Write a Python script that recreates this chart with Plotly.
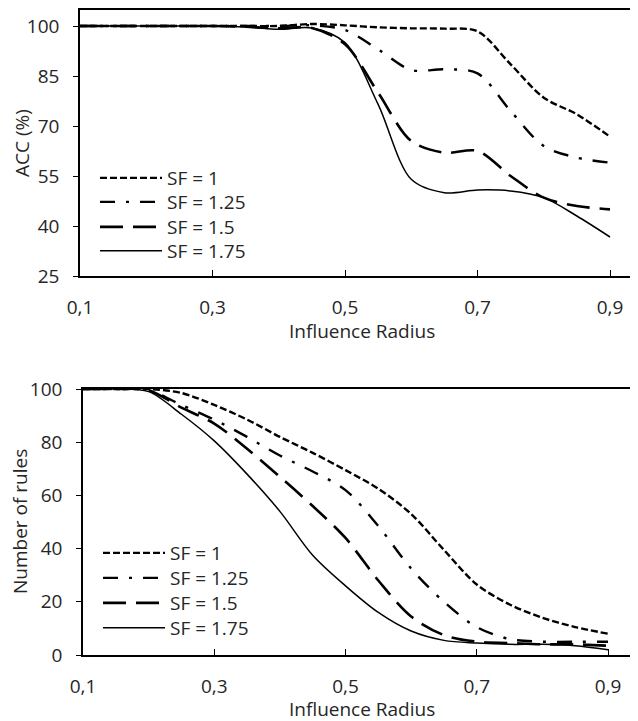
import plotly.graph_objects as go

# ---------------- data ----------------
radius = [0.1, 0.15, 0.2, 0.25, 0.3, 0.35, 0.4, 0.45, 0.5, 0.55,
          0.6, 0.65, 0.7, 0.75, 0.8, 0.85, 0.9]

acc_sf1 = [100, 100, 100, 100, 100, 100, 100, 100.6, 100.2, 99.6,
           99.3, 99.2, 98.4, 88.5, 78.5, 73.5, 66.8]
acc_sf125 = [100, 100, 100, 100, 100, 100, 100, 100.2, 98.8, 93.0,
             86.8, 87.0, 85.8, 74.5, 64.0, 60.5, 59.0]
acc_sf15 = [100, 100, 100, 100, 100, 99.8, 99.3, 99.4, 94.5, 80.0,
            65.5, 62.0, 62.5, 55.0, 48.5, 46.0, 45.0]
acc_sf175 = [100, 100, 100, 100, 100, 99.7, 99.0, 99.4, 95.0, 76.5,
             54.0, 50.0, 50.8, 50.5, 48.5, 43.0, 36.7]

rules_sf1 = [100, 100, 100, 98.5, 94.0, 88.5, 82.0, 76.0, 69.5, 62.5,
             53.0, 39.5, 26.5, 19.0, 14.0, 10.5, 8.0]
rules_sf125 = [100, 100, 99.5, 94.0, 88.5, 82.0, 75.0, 69.0, 62.0, 48.5,
               32.5, 20.0, 10.5, 6.0, 5.0, 5.0, 5.0]
rules_sf15 = [100, 100, 99.5, 93.0, 87.0, 77.5, 67.0, 56.0, 44.0, 28.0,
              14.5, 7.5, 5.0, 4.5, 4.0, 4.0, 3.5]
rules_sf175 = [100, 100, 99.0, 90.5, 80.5, 68.0, 54.0, 37.5, 26.0, 16.0,
               9.0, 5.5, 4.5, 4.0, 4.0, 3.5, 2.0]

series_names = ["SF = 1", "SF = 1.25", "SF = 1.5", "SF = 1.75"]
acc_series = [acc_sf1, acc_sf125, acc_sf15, acc_sf175]
rules_series = [rules_sf1, rules_sf125, rules_sf15, rules_sf175]

acc_ticks = [25, 40, 55, 70, 85, 100]
rules_ticks = [0, 20, 40, 60, 80, 100]
x_ticks = [0.1, 0.3, 0.5, 0.7, 0.9]

# ---------------- styles ----------------
dashes = ["7px,3px", "15px,11px,3px,11px", "23px,10px", "solid"]
widths = [2.4, 2.4, 2.6, 1.5]
FONT = "Open Sans"
FS = 19
TXT = "#262626"
W, H = 638, 721
OFF = 8  # page body offset of the rendered figure

# legend entry centres (page pixels)
top_leg_y = [178, 202, 227, 251]
bot_leg_y = [553, 578, 603, 628]
top_leg_x = 95
bot_leg_x = 98


def px_x(p):
    return (p - OFF) / W


def px_y(p):
    return (H - (p - OFF)) / H


fig = go.Figure()
for i, (name, vals, d, w) in enumerate(zip(series_names, acc_series, dashes, widths)):
    fig.add_trace(go.Scatter(x=radius, y=vals, name=name, mode="lines",
                             line=dict(color="black", width=w, dash=d,
                                       shape="spline", smoothing=0.9),
                             xaxis="x", yaxis="y",
                             legend="legend" if i == 0 else f"legend{i + 1}"))
for i, (name, vals, d, w) in enumerate(zip(series_names, rules_series, dashes, widths)):
    fig.add_trace(go.Scatter(x=radius, y=vals, name=name, mode="lines",
                             line=dict(color="black", width=w, dash=d,
                                       shape="spline", smoothing=0.9),
                             xaxis="x2", yaxis="y2", legend=f"legend{i + 5}"))

axis_common = dict(showgrid=False, zeroline=False, showline=True,
                   linecolor="black", linewidth=1.5, automargin=False,
                   tickfont=dict(family=FONT, size=FS, color=TXT),
                   tickcolor="black", tickwidth=1.3)

legends = {}
for i, yy in enumerate(top_leg_y):
    key = "legend" if i == 0 else f"legend{i + 1}"
    legends[key] = dict(x=px_x(top_leg_x), y=px_y(yy), xanchor="left", yanchor="middle",
                        bgcolor="rgba(0,0,0,0)", itemwidth=62, borderwidth=0,
                        font=dict(family=FONT, size=FS, color=TXT))
for i, yy in enumerate(bot_leg_y):
    legends[f"legend{i + 5}"] = dict(x=px_x(bot_leg_x), y=px_y(yy), xanchor="left",
                                     yanchor="middle", bgcolor="rgba(0,0,0,0)",
                                     itemwidth=62, borderwidth=0,
                                     font=dict(family=FONT, size=FS, color=TXT))

fig.update_layout(
    width=W, height=H,
    margin=dict(l=0, r=0, t=0, b=0, autoexpand=False),
    paper_bgcolor="white", plot_bgcolor="white",
    separators=",.",
    showlegend=True,
    xaxis=dict(axis_common, domain=[px_x(80), 1], range=[0.1, 0.1 + 0.8 * 566 / 530],
               anchor="y", mirror=True, ticks="inside", ticklen=6,
               tickvals=x_ticks, tickformat=".1f", ticklabelstandoff=13),
    yaxis=dict(axis_common, domain=[px_y(276), px_y(10)], range=[25, 104.8],
               anchor="x", ticks="outside", ticklen=5,
               tickvals=acc_ticks, ticklabelstandoff=10),
    xaxis2=dict(axis_common, domain=[px_x(83), 1], range=[0.1, 0.1 + 0.8 * 563 / 525],
                anchor="y2", mirror=True, ticks="inside", ticklen=6,
                tickvals=x_ticks, tickformat=".1f", ticklabelstandoff=13),
    yaxis2=dict(axis_common, domain=[px_y(655), px_y(389)], range=[0, 100],
                anchor="x2", ticks="outside", ticklen=5,
                tickvals=rules_ticks, ticklabelstandoff=10),
    annotations=[
        dict(text="ACC (%)", x=px_x(22), y=px_y(143), xref="paper", yref="paper",
             xanchor="center", yanchor="middle",
             showarrow=False, textangle=-90, font=dict(family=FONT, size=FS, color=TXT)),
        dict(text="Influence Radius", x=px_x(362), y=px_y(331), xref="paper", yref="paper",
             xanchor="center", yanchor="middle",
             showarrow=False, font=dict(family=FONT, size=FS, color=TXT)),
        dict(text="Number of rules", x=px_x(20), y=px_y(522), xref="paper", yref="paper",
             xanchor="center", yanchor="middle",
             showarrow=False, textangle=-90, font=dict(family=FONT, size=FS, color=TXT)),
        dict(text="Influence Radius", x=px_x(362), y=px_y(709), xref="paper", yref="paper",
             xanchor="center", yanchor="middle",
             showarrow=False, font=dict(family=FONT, size=FS, color=TXT)),
    ],
)
fig.update_layout(**legends)

fig.write_html("out.html")
